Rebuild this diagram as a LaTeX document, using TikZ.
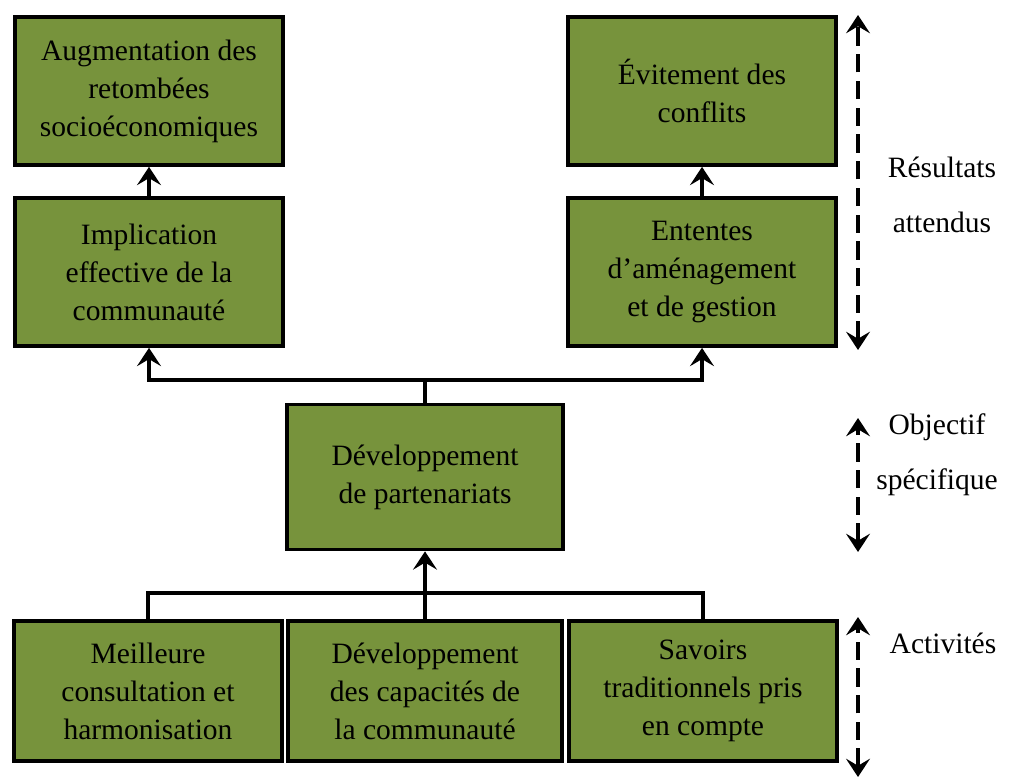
\documentclass[tikz,border=0pt]{standalone}
\usepackage{fontspec}
\setmainfont{Liberation Serif}
\usetikzlibrary{arrows.meta}

\definecolor{boxgreen}{RGB}{119,147,60}

\begin{document}
\begin{tikzpicture}[x=0.025cm, y=-0.025cm,
  box/.style={draw, line width=2.6pt, fill=boxgreen, align=center, inner sep=0pt,
    minimum width=6.7cm, minimum height=3.7cm, font=\fontsize{21}{27}\selectfont},
  link/.style={line width=2.6pt, -{Stealth[length=13pt, width=17pt, inset=5pt]}},
  span/.style={line width=2.6pt, dash pattern=on 13pt off 6pt,
    {Stealth[length=13pt, width=17pt, inset=5pt]}-{Stealth[length=13pt, width=17pt, inset=5pt]}},
  side/.style={align=center, font=\fontsize{21}{39}\selectfont}]
  \useasboundingbox (0,0) rectangle (1010,780);

  % expected results
  \node[box] (aug) at (149,91) {Augmentation des\\retombées\\socioéconomiques};
  \node[box] (impl) at (149,272) {Implication\\effective de la\\communauté};
  \node[box] (evit) at (702,91) {Évitement des\\conflits};
  \node[box] (ent) at (702,272) {Ententes\\d'aménagement\\et de gestion};

  % specific objective
  \node[box, minimum width=6.9cm, minimum height=3.625cm] (dev) at (425,477)
    {Développement\\de partenariats};

  % activities
  \node[box, minimum height=3.5cm] (act1) at (148,691)
    {Meilleure\\consultation et\\harmonisation};
  \node[box, minimum width=6.85cm, minimum height=3.5cm] (act2) at (425,691)
    {Développement\\des capacités de\\la communauté};
  \node[box, minimum height=3.5cm] (act3) at (703,691)
    {Savoirs\\traditionnels pris\\en compte};

  % links
  \draw[link] (impl.north) -- (aug.south);
  \draw[link] (ent.north) -- (evit.south);
  \coordinate (split) at (425,380);
  \draw[line width=2.6pt] (dev.north) -- (split);
  \draw[link] (split) -| (impl.south);
  \draw[link] (split) -| (ent.south);
  \coordinate (join) at (425,593);
  \draw[line width=2.6pt] (act1.north) |- (join) -| (act3.north);
  \draw[link] (act2.north) -- (dev.south);

  % levels on the right
  \coordinate (r1t) at (858,15);
  \coordinate (r1b) at (858,350);
  \coordinate (r2t) at (858,418);
  \coordinate (r2b) at (858,552);
  \coordinate (r3t) at (858,617);
  \coordinate (r3b) at (858,777);
  \draw[span] (r1b) -- (r1t);
  \draw[span] (r2b) -- (r2t);
  \draw[span] (r3b) -- (r3t);
  \node[side] (res) at (942,195) {Résultats\\attendus};
  \node[side] (obj) at (937,455) {Objectif\\spécifique};
  \node[side] (actv) at (943,643) {Activités};
\end{tikzpicture}
\end{document}
